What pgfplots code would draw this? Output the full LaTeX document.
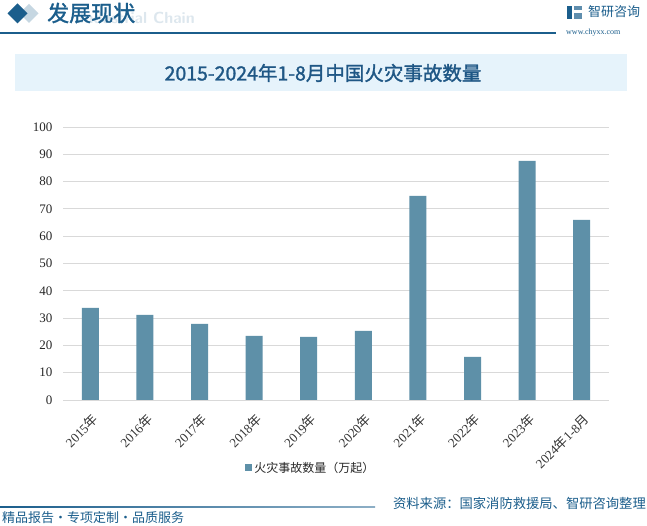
\documentclass[border=0pt]{standalone}
\usepackage{pgfplots}
\pgfplotsset{compat=1.18}
\usepackage{fontspec}
\setmainfont{Noto Sans CJK SC}
\newfontfamily\cjkb{Noto Sans CJK SC}[FakeBold=1.5]
\newfontfamily\serifnum{Liberation Serif}
\definecolor{barc}{HTML}{5E90A8}
\definecolor{hdr}{HTML}{1B5E8C}
\definecolor{ttl}{HTML}{1F5785}
\definecolor{tbox}{HTML}{E6F3FB}
\definecolor{gridc}{HTML}{D9D9D9}
\begin{document}
\begin{tikzpicture}[x=1pt,y=1pt]
\path[use as bounding box, fill=white] (0,0) rectangle (647,526);
% header
\fill[hdr!25] (19.5,526-13.5) -- (29,526-4) -- (38.5,526-13.5) -- (29,526-23) -- cycle;
\fill[hdr] (7.5,526-13.5) -- (17.5,526-3.5) -- (27.5,526-13.5) -- (17.5,526-23.5) -- cycle;
\node[anchor=east, text=hdr!15, font=\fontsize{16}{18}\selectfont\bfseries\sffamily, inner sep=0] at (195,526-18) {Industrial Chain};
\node[anchor=west, text=hdr, font=\fontsize{22}{24}\selectfont\cjkb, inner sep=0] at (47,526-13) {发展现状};
\draw[hdr, line width=1.2pt] (0,526-33) -- (556,526-33);
\fill[hdr] (567,526-6) rectangle (572,526-19);
\fill[hdr!70] (574,526-6) rectangle (582,526-10);
\fill[hdr!70] (574,526-13) rectangle (582,526-19);
\node[anchor=west, text=hdr, font=\fontsize{13}{15}\selectfont, inner sep=0] at (588,526-12) {智研咨询};
\node[anchor=west, text=hdr, font=\fontsize{8}{9}\selectfont\serifnum, inner sep=0] at (566,526-33) {www.chyxx.com};
% title box
\fill[tbox] (15,526-54) rectangle (627,526-91);
\node[text=ttl, font=\fontsize{19.5}{22}\selectfont\cjkb] at (323,526-73) {2015-2024年1-8月中国火灾事故数量};
% footer
\shade[left color=hdr, right color=hdr!50] (0,526-508) rectangle (375,526-506.8);
\node[anchor=east, text=hdr, font=\fontsize{13.3}{15}\selectfont, inner sep=0] at (646,526-503) {资料来源：国家消防救援局、智研咨询整理};
\node[anchor=west, text=hdr, font=\fontsize{13}{15}\selectfont, inner sep=0] at (2,526-518) {精品报告·专项定制·品质服务};
\begin{axis}[
  at={(63pt,126pt)}, anchor=south west,
  scale only axis, width=546pt, height=273pt,
  ymin=0, ymax=100, ytick={0,10,...,100},
  xmin=-0.5, xmax=9.5,
  xtick={0,...,9},
  xticklabels={{\serifnum 2015}年,{\serifnum 2016}年,{\serifnum 2017}年,{\serifnum 2018}年,{\serifnum 2019}年,{\serifnum 2020}年,{\serifnum 2021}年,{\serifnum 2022}年,{\serifnum 2023}年,{\serifnum 2024}年{\serifnum 1-8}月},
  x tick label style={rotate=45, anchor=north east, font=\fontsize{13}{15}\selectfont, text=black!80, xshift=-5pt, yshift=-6pt},
  y tick label style={font=\fontsize{13}{15}\selectfont\serifnum, text=black!85, xshift=-7pt},
  /pgf/number format/assume math mode=true,
  major tick length=0pt,
  ymajorgrids, grid style={gridc, line width=0.9pt},
  axis x line*=bottom, axis y line*=left,
  x axis line style={gridc, line width=0.9pt, -},
  y axis line style={draw=none},
  ybar, bar width=17pt, bar shift=0pt,
  legend style={at={(0.454,-0.248)}, anchor=center, draw=none, fill=none, font=\fontsize{12}{14}\selectfont, text=black!85, inner sep=0pt},
  legend image code/.code={\fill[barc] (0pt,-3.5pt) rectangle (7pt,3.5pt);},
]
\addplot[fill=barc, draw=none] coordinates {(0,33.7) (1,31.2) (2,27.9) (3,23.5) (4,23.1) (5,25.3) (6,74.8) (7,15.8) (8,87.6) (9,66.0)};
\addlegendentry{火灾事故数量（万起）}
\end{axis}
\end{tikzpicture}
\end{document}
